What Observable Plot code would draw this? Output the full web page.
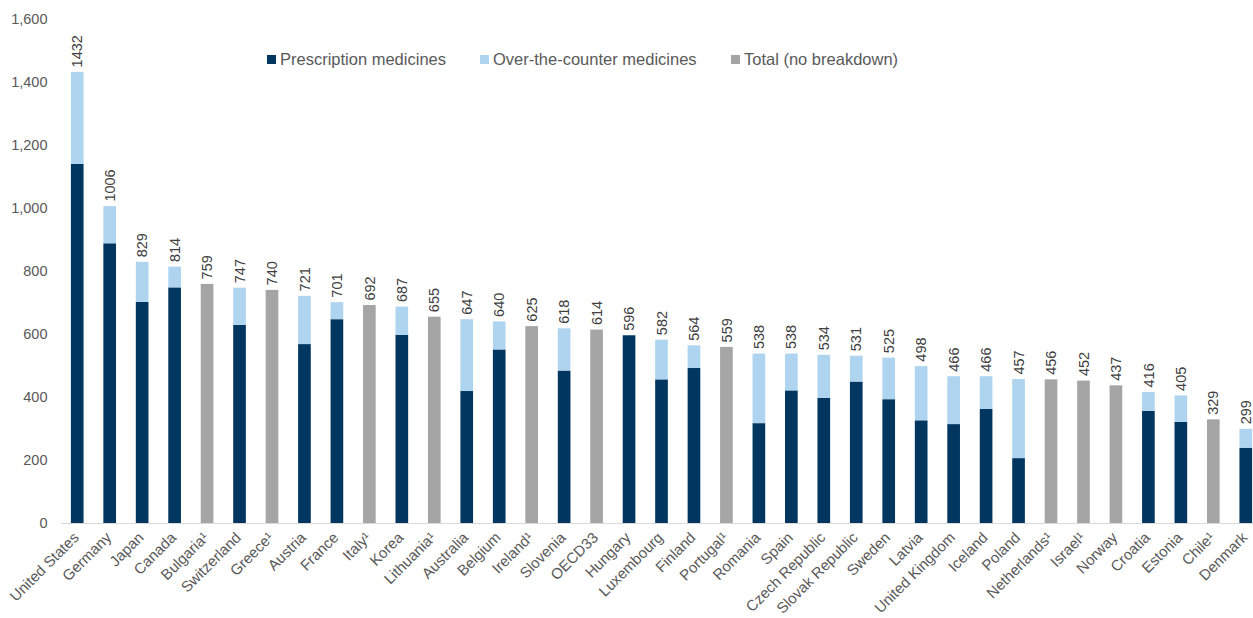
<!DOCTYPE html>
<html>
<head>
<meta charset="utf-8">
<script src="https://cdn.jsdelivr.net/npm/d3@7"></script>
<script src="https://cdn.jsdelivr.net/npm/@observablehq/plot@0.6"></script>
<style>
  html, body { margin: 0; padding: 0; background: white; overflow: hidden; }
  #wrap { position: relative; width: 1253px; height: 618px; overflow: hidden; font-family: "Liberation Sans", Arial, sans-serif; }
  #wrap svg { max-width: none !important; }
  .leg { position: absolute; top: 49px; font-size: 16.5px; color: #595959; white-space: nowrap; line-height: 20px; }
  .sw { position: absolute; top: 6px; width: 9px; height: 9px; }
  .leg span.t { position: absolute; left: 13px; top: 0; }
</style>
</head>
<body>
<div id="wrap"></div>
<script>
const categories = ["United States","Germany","Japan","Canada","Bulgaria¹","Switzerland","Greece¹","Austria","France","Italy¹","Korea","Lithuania¹","Australia","Belgium","Ireland¹","Slovenia","OECD33","Hungary","Luxembourg","Finland","Portugal¹","Romania","Spain","Czech Republic","Slovak Republic","Sweden","Latvia","United Kingdom","Iceland","Poland","Netherlands¹","Israel¹","Norway","Croatia","Estonia","Chile¹","Denmark"];
const totals = [1432,1006,829,814,759,747,740,721,701,692,687,655,647,640,625,618,614,596,582,564,559,538,538,534,531,525,498,466,466,457,456,452,437,416,405,329,299];
// prescription share; null = no breakdown available
const prescription = [1140,888,702,748,null,629,null,568,647,null,597,null,419,551,null,484,null,596,456,492,null,317,421,397,449,393,326,314,362,206,null,null,null,356,321,null,239];
const seriesNames = ["Prescription medicines","Over-the-counter medicines","Total (no breakdown)"];
const seriesColors = ["#003660","#aed4f0","#a5a5a5"];
const yTicks = [0,200,400,600,800,1000,1200,1400,1600];

const rows = [];
categories.forEach((c, i) => {
  if (prescription[i] == null) {
    rows.push({category: c, series: seriesNames[2], value: totals[i]});
  } else {
    rows.push({category: c, series: seriesNames[0], value: prescription[i]});
    rows.push({category: c, series: seriesNames[1], value: totals[i] - prescription[i]});
  }
});
const labels = categories.map((c, i) => ({category: c, total: totals[i]}));

const chart = Plot.plot({
  width: 1262,
  height: 618,
  marginLeft: 61,
  marginRight: 0,
  marginTop: 19,
  marginBottom: 95,
  style: {fontFamily: '"Liberation Sans", Arial, sans-serif', fontSize: "14px", color: "#595959", background: "white", overflow: "visible"},
  x: {domain: categories, paddingInner: 0.61, paddingOuter: 0.305, round: false, axis: null},
  y: {domain: [0, 1600], axis: null},
  color: {domain: seriesNames, range: seriesColors},
  marks: [
    Plot.axisY({ticks: yTicks, tickFormat: d3.format(","), tickSize: 0, tickPadding: 14, label: null, fontSize: 14.5}),
    Plot.barY(rows, {x: "category", y: "value", fill: "series"}),
    Plot.ruleY([0], {stroke: "#d9d9d9", strokeWidth: 1.2}),
    Plot.text(labels, {x: "category", y: "total", text: d => String(d.total), rotate: -90, textAnchor: "start", dy: -5, fontSize: 14.5, fill: "#404040"}),
    Plot.text(labels, {x: "category", frameAnchor: "bottom", text: "category", rotate: -45, textAnchor: "end", dy: 15, dx: 2, fontSize: 15, fill: "#595959"})
  ]
});
const wrap = document.getElementById("wrap");
wrap.appendChild(chart);

const legPos = [267, 480, 731];
seriesNames.forEach((s, i) => {
  const d = document.createElement("div");
  d.className = "leg";
  d.style.left = legPos[i] + "px";
  d.innerHTML = `<div class="sw" style="background:${seriesColors[i]}"></div><span class="t">${s}</span>`;
  wrap.appendChild(d);
});
</script>
</body>
</html>
